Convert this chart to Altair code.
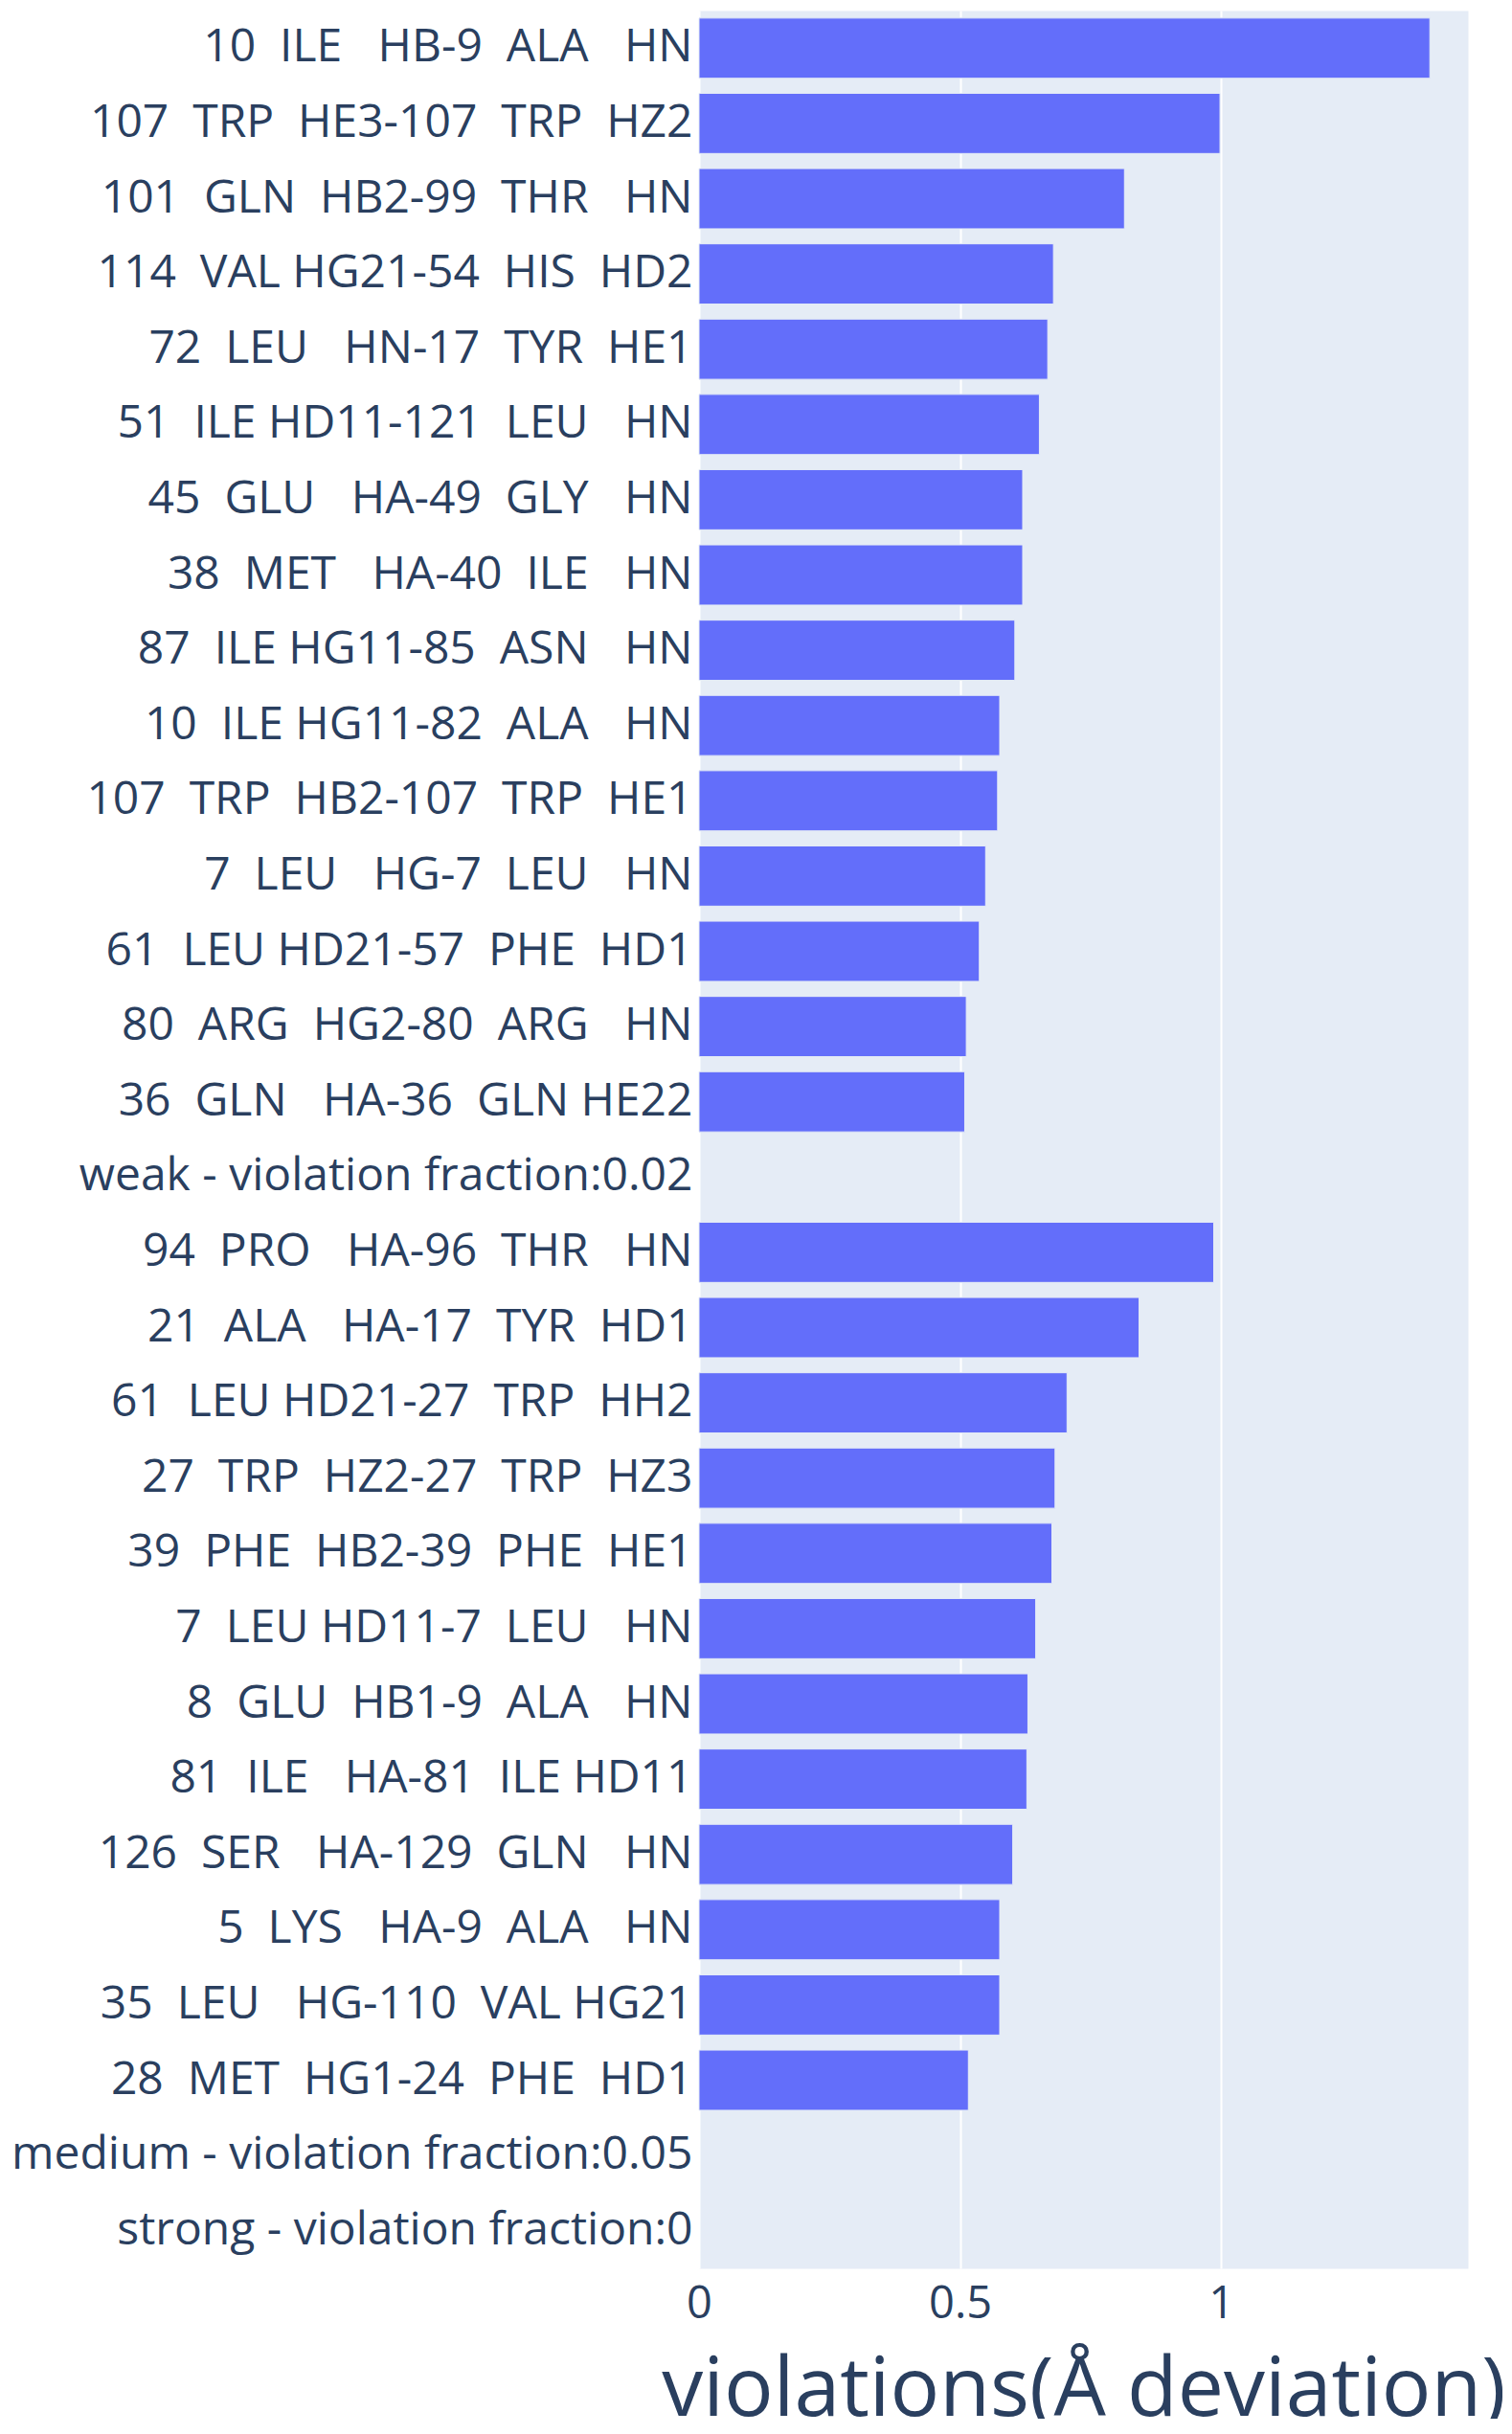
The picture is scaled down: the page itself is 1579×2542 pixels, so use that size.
import altair as alt
import pandas as pd

NBSP = "\u00a0"

weak_labels = [
    "10  ILE   HB-9  ALA   HN",
    "107  TRP  HE3-107  TRP  HZ2",
    "101  GLN  HB2-99  THR   HN",
    "114  VAL HG21-54  HIS  HD2",
    "72  LEU   HN-17  TYR  HE1",
    "51  ILE HD11-121  LEU   HN",
    "45  GLU   HA-49  GLY   HN",
    "38  MET   HA-40  ILE   HN",
    "87  ILE HG11-85  ASN   HN",
    "10  ILE HG11-82  ALA   HN",
    "107  TRP  HB2-107  TRP  HE1",
    "7  LEU   HG-7  LEU   HN",
    "61  LEU HD21-57  PHE  HD1",
    "80  ARG  HG2-80  ARG   HN",
    "36  GLN   HA-36  GLN HE22",
]
weak_values = [1.400, 0.998, 0.815, 0.679, 0.668, 0.652, 0.620, 0.620,
               0.605, 0.576, 0.572, 0.549, 0.537, 0.512, 0.509]
weak_header = "weak - violation fraction:0.02"

medium_labels = [
    "94  PRO   HA-96  THR   HN",
    "21  ALA   HA-17  TYR  HD1",
    "61  LEU HD21-27  TRP  HH2",
    "27  TRP  HZ2-27  TRP  HZ3",
    "39  PHE  HB2-39  PHE  HE1",
    "7  LEU HD11-7  LEU   HN",
    "8  GLU  HB1-9  ALA   HN",
    "81  ILE   HA-81  ILE HD11",
    "126  SER   HA-129  GLN   HN",
    "5  LYS   HA-9  ALA   HN",
    "35  LEU   HG-110  VAL HG21",
    "28  MET  HG1-24  PHE  HD1",
]
medium_values = [0.986, 0.843, 0.705, 0.682, 0.676, 0.645, 0.630, 0.628,
                 0.601, 0.576, 0.576, 0.516]
medium_header = "medium - violation fraction:0.05"
strong_header = "strong - violation fraction:0"

x_ticks = [0, 0.5, 1]
x_max = 1.473

row_labels = weak_labels + [weak_header] + medium_labels + [medium_header, strong_header]
row_values = weak_values + [None] + medium_values + [None, None]
labels = [s.replace(" ", NBSP) for s in row_labels]

df = pd.DataFrame({"label": labels, "value": row_values})

FONT = "Open Sans"
TXT = "#2a3f5f"

chart = alt.Chart(df).mark_bar(
    color="#636efa", stroke="#E5ECF6", strokeWidth=1
).encode(
    x=alt.X(
        "value:Q",
        scale=alt.Scale(domain=[0, x_max], nice=False, zero=True),
        axis=alt.Axis(
            title="violations(Å deviation)",
            values=x_ticks,
            format="~g",
            grid=True,
            gridColor="white",
            gridWidth=2,
            domain=False,
            ticks=False,
            labelFlush=False,
            labelFont=FONT,
            labelFontSize=47,
            labelColor=TXT,
            labelPadding=14,
            titleFont=FONT,
            titleFontSize=86,
            titleFontWeight="normal",
            titleColor=TXT,
            titlePadding=25,
        ),
    ),
    y=alt.Y(
        "label:N",
        sort=None,
        scale=alt.Scale(domain=labels, paddingInner=0.2, paddingOuter=0.1),
        axis=alt.Axis(
            title=None,
            grid=False,
            domain=False,
            ticks=False,
            labelFont=FONT,
            labelFontSize=48,
            labelColor=TXT,
            labelPadding=7,
            labelLimit=1000,
        ),
    ),
).properties(
    width=803,
    height=2358,
    autosize=alt.AutoSizeParams(type="none"),
    padding={"left": 722, "top": 3, "right": 36, "bottom": 157},
).configure_view(
    fill="#E5ECF6",
    stroke="transparent",
)

chart.save("out.html", embed_options={"renderer": "svg", "actions": False})
